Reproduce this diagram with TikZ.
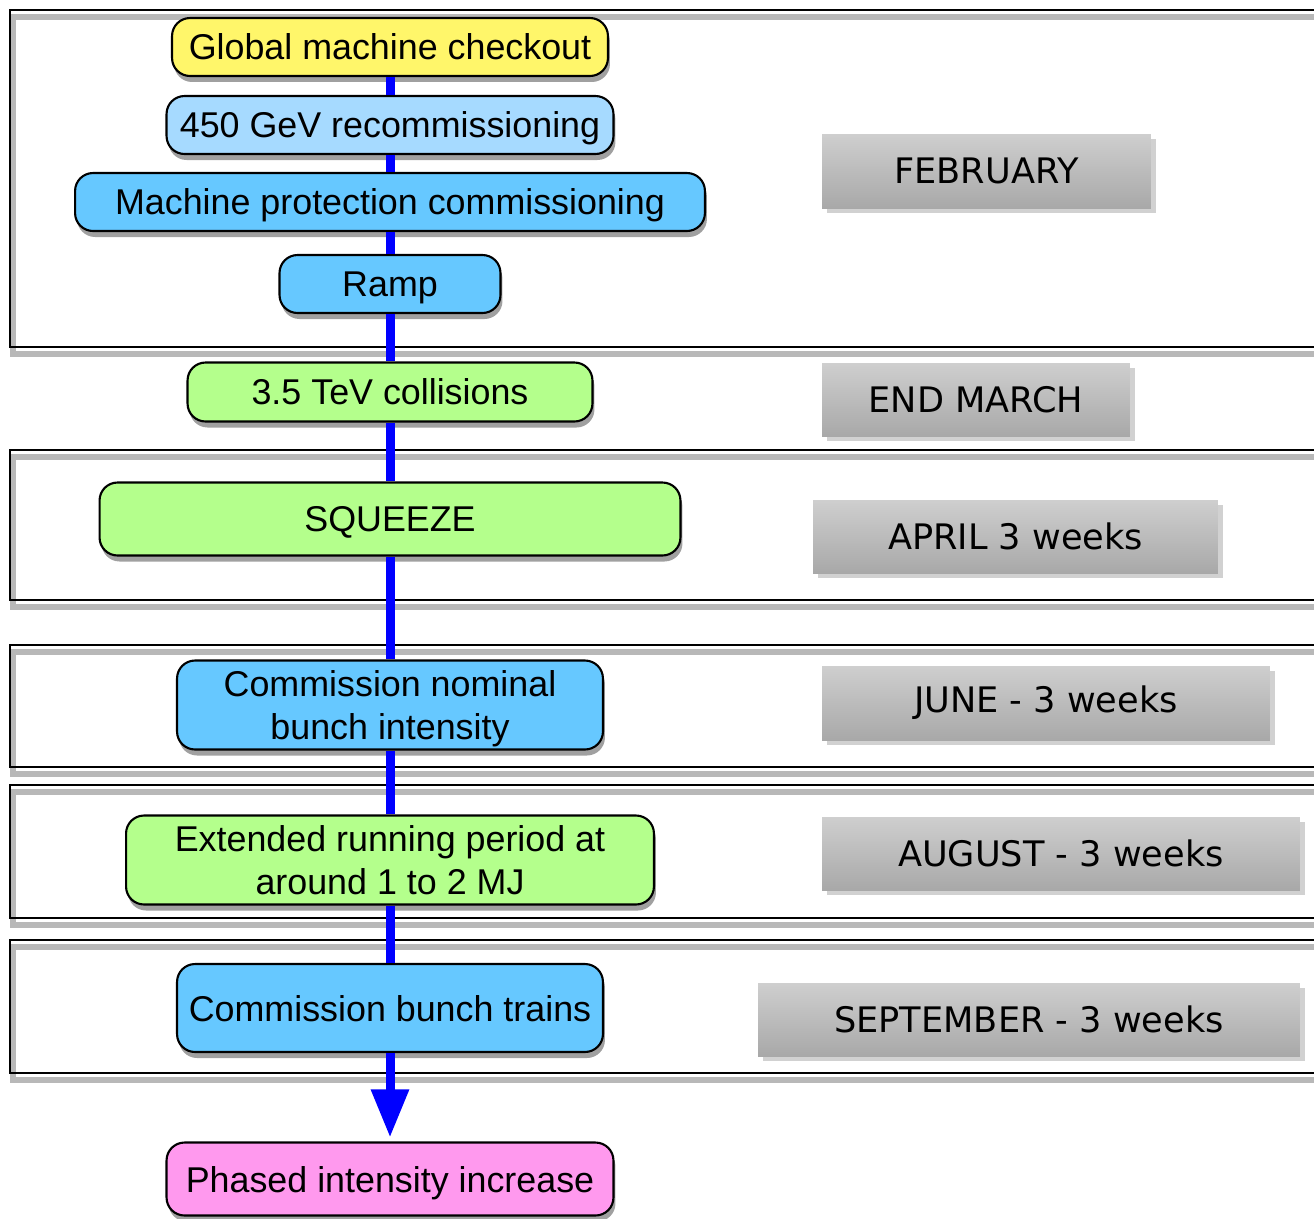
\documentclass[tikz,border=0pt]{standalone}
\usepackage{fontspec}
\setmainfont{Liberation Sans}
\newfontfamily\monthfont{DejaVu Sans}
\usepackage{tikz}
\usetikzlibrary{arrows.meta,shadows}
\definecolor{stageyellow}{RGB}{255,246,106}
\definecolor{stagepale}{RGB}{166,218,255}
\definecolor{stageblue}{RGB}{102,200,255}
\definecolor{stagegreen}{RGB}{180,255,140}
\definecolor{stagepink}{RGB}{255,153,238}
\tikzstyle{stage}=[draw,line width=1.2pt,rounded corners=0.36cm,align=center,inner sep=0pt,text depth=0pt,font=\fontsize{20.4}{24}\selectfont,drop shadow={shadow xshift=0.04cm,shadow yshift=-0.12cm,opacity=0.75}]
\tikzstyle{month}=[top color=black!19,bottom color=black!34,inner sep=0pt,font=\monthfont\fontsize{20}{24}\selectfont,drop shadow={shadow xshift=0.1cm,shadow yshift=-0.1cm,fill=black!18,opacity=1}]
\tikzstyle{flow}=[draw=blue,line width=0.18cm]
\tikzstyle{frame}=[draw=black,line width=1pt]
\tikzstyle{frameshadow}=[draw=black!28,line width=3pt]

\begin{document}
\begin{tikzpicture}[x=0.02cm,y=-0.02cm]
\clip (0,0) rectangle (1314,1218);
% period frames
\foreach \ya/\yb in {10/347,450/600,645/767,785/918,940/1073} {
  \draw[frameshadow] (13,\ya+7) rectangle (1340,\yb+7);
  \draw[frame] (10,\ya) rectangle (1340,\yb);
}
% stages
\node[stage,fill=stageyellow,minimum width=8.72cm,minimum height=1.16cm] (checkout) at (390,47) {Global machine checkout};
\node[stage,fill=stagepale,minimum width=8.94cm,minimum height=1.16cm] (gev) at (390,125) {450 GeV recommissioning};
\node[stage,fill=stageblue,minimum width=12.6cm,minimum height=1.16cm] (protection) at (390,202) {Machine protection commissioning};
\node[stage,fill=stageblue,minimum width=4.42cm,minimum height=1.16cm] (ramp) at (390,284) {Ramp};
\node[stage,fill=stagegreen,minimum width=8.1cm,minimum height=1.18cm] (collisions) at (390,392) {3.5 TeV collisions};
\node[stage,fill=stagegreen,minimum width=11.62cm,minimum height=1.46cm] (squeeze) at (390,519) {SQUEEZE};
\node[stage,fill=stageblue,minimum width=8.52cm,minimum height=1.78cm] (nominal) at (390,705) {Commission nominal\\bunch intensity};
\node[stage,fill=stagegreen,minimum width=10.56cm,minimum height=1.78cm] (extended) at (390,860) {Extended running period at\\around 1 to 2 MJ};
\node[stage,fill=stageblue,minimum width=8.52cm,minimum height=1.76cm] (trains) at (390,1008) {Commission bunch trains};
\node[stage,fill=stagepink,minimum width=8.94cm,minimum height=1.46cm] (phased) at (390,1179) {Phased intensity increase};
% months
\node[month,minimum width=6.58cm,minimum height=1.48cm] (feb) at (986.5,171) {FEBRUARY};
\node[month,minimum width=6.16cm,minimum height=1.46cm] (mar) at (976,399.5) {END MARCH};
\node[month,minimum width=8.1cm,minimum height=1.46cm] (apr) at (1015.5,536.5) {APRIL 3 weeks};
\node[month,minimum width=8.96cm,minimum height=1.48cm] (jun) at (1046,703) {JUNE - 3 weeks};
\node[month,minimum width=9.56cm,minimum height=1.46cm] (aug) at (1061,853.5) {AUGUST - 3 weeks};
\node[month,minimum width=10.84cm,minimum height=1.46cm] (sep) at (1029,1019.5) {SEPTEMBER - 3 weeks};
% flow line
\foreach \a/\b in {checkout/gev,gev/protection,protection/ramp,ramp/collisions,collisions/squeeze,squeeze/nominal,nominal/extended,extended/trains}
  \draw[flow] (\a) -- (\b);
\draw[flow,-{Triangle[length=0.96cm,width=0.72cm]},shorten >=0.08cm] (trains) -- (phased);
\end{tikzpicture}
\end{document}
